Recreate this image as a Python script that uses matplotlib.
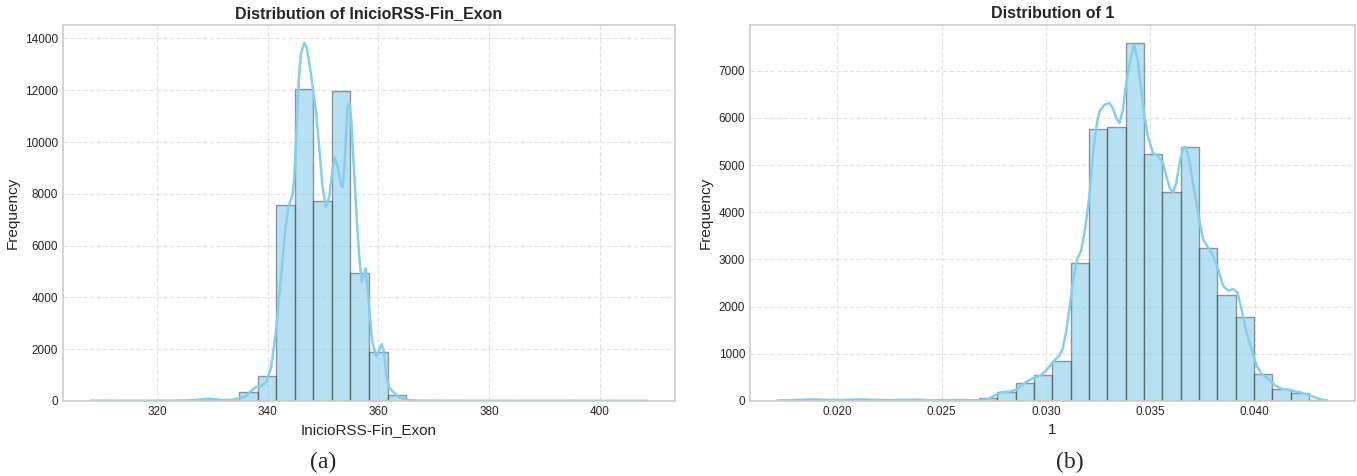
import numpy as np
import matplotlib.pyplot as plt
from matplotlib.colors import to_rgba

# histogram of InicioRSS-Fin_Exon: 30 bins between the data min and max
left_lo, left_hi = 308.0, 408.6
left_counts = [3, 1, 0, 2, 4, 8, 45, 22, 340, 970, 7560, 12040, 7710, 11970, 4930,
               1880, 250, 12, 4, 2, 1, 1, 0, 1, 0, 0, 1, 0, 0, 2]
# kde curve (scaled to counts)
left_kde_x = [308.0, 312, 316, 320, 324, 327, 329, 330.5, 332, 333.4, 334.5, 335.8,
              337.0, 337.9, 338.8, 339.7, 340.6, 341.5, 342.4, 343.1, 343.7, 344.5,
              344.8, 345.2, 345.6, 346.0, 346.6, 347.1, 347.8, 348.7, 349.3, 349.9,
              350.5, 351.1, 351.7, 352.1, 352.6, 353.2, 353.5, 353.9, 354.4, 354.8,
              355.1, 355.6, 356.1, 356.6, 357.0, 357.7, 358.3, 358.9, 359.6, 360.6,
              361.0, 361.4, 361.9, 362.9, 363.8, 365.3, 368, 375, 385, 395, 408.6]
left_kde_y = [12, 10, 8, 10, 15, 40, 90, 70, 35, 40, 90, 155,
              390, 540, 580, 710, 1290, 2710, 4770, 6450, 7480, 7970,
              8640, 10450, 12380, 13420, 13830, 13610, 12640, 11220, 9800, 8260,
              7480, 7870, 8900, 9390, 9090, 8390, 8260, 9160, 11350, 11510,
              10840, 8900, 6970, 5420, 4600, 5120, 3740, 2300, 1700, 2200,
              1900, 1030, 550, 300, 130, 30, 12, 8, 6, 8, 5]

# histogram of column 1
right_lo, right_hi = 0.01714, 0.04348
right_counts = [4, 6, 3, 8, 5, 3, 6, 4, 5, 3, 10, 70, 183, 375, 553, 838, 2915, 5770,
                5810, 7592, 5235, 4432, 5390, 3250, 2255, 1770, 580, 262, 178, 25]
right_kde_x = [0.01714, 0.0178, 0.01881, 0.0196, 0.0202, 0.02112, 0.0218, 0.02256,
               0.02367, 0.0245, 0.02592, 0.02672, 0.0272, 0.02752, 0.02784, 0.02832,
               0.02864, 0.0288, 0.02912, 0.02944, 0.02976, 0.03008, 0.0304, 0.03064,
               0.0308, 0.03096, 0.03112, 0.03128, 0.03149, 0.03168, 0.03187, 0.03208,
               0.03224, 0.0324, 0.03256, 0.0328, 0.03304, 0.0332, 0.03336, 0.03352,
               0.03368, 0.03384, 0.034, 0.03422, 0.0344, 0.03456, 0.03472, 0.03488,
               0.03512, 0.03536, 0.0356, 0.03576, 0.03592, 0.03608, 0.03624, 0.0364,
               0.03656, 0.03667, 0.03683, 0.03704, 0.03728, 0.03752, 0.03776, 0.038,
               0.03824, 0.03848, 0.03872, 0.03896, 0.03917, 0.03936, 0.0396, 0.03984,
               0.04008, 0.04032, 0.04064, 0.04096, 0.04128, 0.0416, 0.04192, 0.04224,
               0.0427, 0.0431, 0.04348]
right_kde_y = [14, 18, 35, 22, 20, 35, 22, 18,
               28, 15, 21, 14, 35, 113, 183, 204,
               253, 331, 420, 500, 542, 683, 859, 964,
               1105, 1457, 1950, 2513, 3006, 3182, 3640, 4344,
               5188, 5787, 6139, 6280, 6315, 6209, 5998, 5892,
               6174, 6737, 7160, 7550, 7200, 6596, 6033, 5611,
               5259, 5188, 5048, 4766, 4520, 4414, 4625, 5048,
               5364, 5386, 5188, 4625, 3992, 3428, 3252, 3076,
               2795, 2443, 2337, 2372, 2302, 1950, 1457, 1105,
               753, 577, 472, 331, 260, 239, 204, 176,
               110, 40, 10]

plt.style.use('seaborn-v0_8-whitegrid')
plt.rcParams['font.family'] = ['Liberation Sans', 'DejaVu Sans']

fig = plt.figure(figsize=(13.57, 4.76), dpi=100)
ax1 = fig.add_axes([0.0464, 0.1576, 0.451, 0.790])
ax2 = fig.add_axes([0.5527, 0.1576, 0.4458, 0.790])


def hist_panel(ax, lo, hi, counts, kde_x, kde_y, name):
    edges = np.linspace(lo, hi, len(counts) + 1)
    ax.bar(edges[:-1], counts, width=np.diff(edges), align='edge',
           color=to_rgba('skyblue', 0.6), edgecolor=(0.15, 0.15, 0.15, 0.45),
           linewidth=1.0)
    ax.plot(kde_x, kde_y, color='skyblue', lw=1.8)
    ax.set_title('Distribution of ' + name, fontsize=11.5, fontweight='bold',
                 color='#262626', pad=5)
    ax.set_xlabel(name, fontsize=11, color='#262626')
    ax.set_ylabel('Frequency', fontsize=11, color='#262626')
    ax.tick_params(labelsize=8.5, colors='#262626', length=0)
    ax.grid(True, linestyle='--', color='#d9d9d9', alpha=0.7, lw=0.9)
    for s in ax.spines.values():
        s.set_color('#cccccc')
        s.set_linewidth(1.2)


hist_panel(ax1, left_lo, left_hi, left_counts, left_kde_x, left_kde_y, 'InicioRSS-Fin_Exon')
hist_panel(ax2, right_lo, right_hi, right_counts, right_kde_x, right_kde_y, '1')

ax1.set_xticks([320, 340, 360, 380, 400])
ax1.set_yticks(range(0, 14001, 2000))
ax2.set_xticks([0.020, 0.025, 0.030, 0.035, 0.040])
ax2.set_yticks(range(0, 7001, 1000))

fig.text(0.238, 0.029, '(a)', family='Liberation Serif', fontsize=17, ha='center', va='center')
fig.text(0.788, 0.029, '(b)', family='Liberation Serif', fontsize=17, ha='center', va='center')

fig.savefig('out.png', dpi=100)
